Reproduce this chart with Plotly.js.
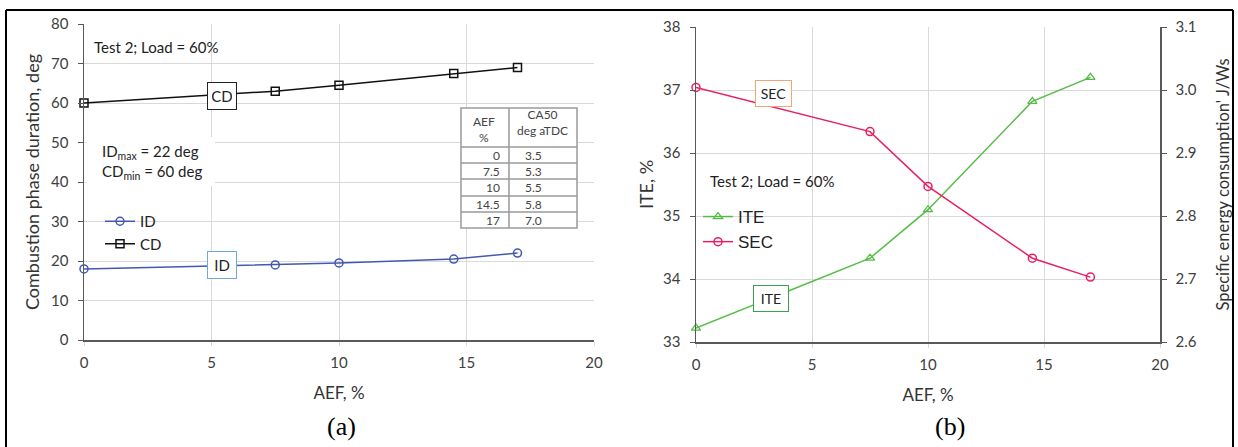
<!DOCTYPE html>
<html><head><meta charset="utf-8">
<script src="https://cdn.plot.ly/plotly-3.0.1.min.js"></script>
<style>html,body{margin:0;padding:0;background:#fff}#chart{width:1238px;height:447px}</style>
</head><body><div id="chart"></div>
<script>
// ---- data ----
const aef = [0, 7.5, 10, 14.5, 17];
const idValues = [18, 19, 19.5, 20.5, 22];
const cdValues = [60, 63, 64.5, 67.5, 69];
const iteValues = [33.22, 34.33, 35.1, 36.82, 37.2];
const secValues = [3.004, 2.934, 2.847, 2.733, 2.703];
const tableAEF = ['0', '7.5', '10', '14.5', '17'];
const tableCA50 = ['3.5', '5.3', '5.5', '5.8', '7.0'];

const W = 1238, H = 447;
const px = x => x / W;
const py = y => 1 - y / H;
const grid = '#d9d9d9', axc = '#595959', txt = '#404040';
const F = 'Lato, "Open Sans", sans-serif';

const traces = [
  {x: aef, y: idValues, name: 'ID', type: 'scatter', mode: 'lines+markers', xaxis: 'x', yaxis: 'y', legend: 'legend',
   line: {color: '#4458b2', width: 1.5}, marker: {symbol: 'circle-open', size: 8, color: '#4458b2', line: {width: 1.5}}, cliponaxis: false},
  {x: aef, y: cdValues, name: 'CD', type: 'scatter', mode: 'lines+markers', xaxis: 'x', yaxis: 'y', legend: 'legend',
   line: {color: '#111', width: 1.5}, marker: {symbol: 'square-open', size: 8, color: '#111', line: {width: 1.5}}, cliponaxis: false},
  {x: aef, y: iteValues, name: 'ITE', type: 'scatter', mode: 'lines+markers', xaxis: 'x2', yaxis: 'y2', legend: 'legend2',
   line: {color: '#55bb46', width: 1.5}, marker: {symbol: 'triangle-up-open', size: 8, color: '#55bb46', line: {width: 1.3}}, cliponaxis: false},
  {x: aef, y: secValues, name: 'SEC', type: 'scatter', mode: 'lines+markers', xaxis: 'x2', yaxis: 'y3', legend: 'legend2',
   line: {color: '#e8205f', width: 1.5}, marker: {symbol: 'circle-open', size: 8, color: '#e8205f', line: {width: 1.5}}, cliponaxis: false}
];

function xAx(domain, anchor) {
  return {domain: domain, anchor: anchor, range: [0, 20], dtick: 5, showgrid: true, gridcolor: grid, gridwidth: 1,
    zeroline: false, showline: true, linecolor: axc, linewidth: 1.5, ticks: 'outside', ticklen: 4, tickcolor: grid,
    tickfont: {family: F, size: 15, color: txt}, ticklabelstandoff: 4,
    title: {text: 'AEF, %', font: {family: F, size: 17, color: '#333'}, standoff: 17}};
}

const layout = {
  width: W, height: H, margin: {l: 0, r: 0, t: 0, b: 0}, paper_bgcolor: '#fff', plot_bgcolor: '#fff',
  showlegend: true,
  xaxis: xAx([px(84), px(594)], 'y'),
  yaxis: {domain: [py(340), py(24)], anchor: 'x', range: [0, 80], dtick: 10, showgrid: true, gridcolor: grid,
    zeroline: false, showline: true, linecolor: axc, linewidth: 1.5, ticks: 'outside', ticklen: 5, tickcolor: axc,
    tickfont: {family: F, size: 15, color: txt}, ticklabelstandoff: 6,
    title: {text: 'Combustion phase duration, deg', font: {family: F, size: 18, color: '#333'}, standoff: 7}},
  xaxis2: xAx([px(696), px(1160)], 'y2'),
  yaxis2: {domain: [py(342), py(27)], anchor: 'x2', range: [33, 38], dtick: 1, showgrid: true, gridcolor: grid,
    zeroline: false, showline: true, linecolor: axc, linewidth: 1.5, ticks: 'outside', ticklen: 5, tickcolor: axc,
    tickfont: {family: F, size: 15, color: txt}, ticklabelstandoff: 6,
    title: {text: 'ITE, %', font: {family: F, size: 18, color: '#333'}, standoff: 5}},
  yaxis3: {overlaying: 'y2', anchor: 'x2', side: 'right', range: [2.6, 3.1], dtick: 0.1, tickformat: '.1f', showgrid: false,
    zeroline: false, showline: true, linecolor: axc, linewidth: 1.5, ticks: 'outside', ticklen: 5, tickcolor: axc,
    tickfont: {family: F, size: 15, color: txt}, ticklabelstandoff: 6,
    title: {text: "Specific energy consumption' J/Ws", font: {family: F, size: 16.5, color: '#333'}, standoff: 21}},
  legend: {x: px(100), y: py(205), xanchor: 'left', yanchor: 'top', bgcolor: 'rgba(0,0,0,0)',
    font: {family: F, size: 15, color: '#222'}, itemwidth: 30, tracegroupgap: 0},
  legend2: {x: px(698), y: py(199), xanchor: 'left', yanchor: 'top', bgcolor: 'rgba(0,0,0,0)',
    font: {family: '"Liberation Sans", Arial, sans-serif', size: 17, color: '#222'}, itemwidth: 30, tracegroupgap: 0},
  shapes: [],
  annotations: []
};

// outer frame
layout.shapes.push({type: 'line', xref: 'paper', yref: 'paper', x0: px(6), x1: px(1233), y0: py(10), y1: py(10), line: {color: '#000', width: 2}});
layout.shapes.push({type: 'line', xref: 'paper', yref: 'paper', x0: px(6), x1: px(6), y0: py(10), y1: 0, line: {color: '#000', width: 2}});
layout.shapes.push({type: 'line', xref: 'paper', yref: 'paper', x0: px(1233), x1: px(1233), y0: py(10), y1: 0, line: {color: '#000', width: 2}});

// white box behind IDmax/CDmin text
layout.shapes.push({type: 'rect', xref: 'paper', yref: 'paper', x0: px(86), x1: px(215), y0: py(186), y1: py(137), fillcolor: '#fff', line: {width: 0}, layer: 'above'});

// table
const tL = 461, tM = 509, tR = 577, tTop = 108;
const rowEdges = [147, 163, 179, 196, 212, 228];
layout.shapes.push({type: 'rect', xref: 'paper', yref: 'paper', x0: px(tL), x1: px(tR), y0: py(228), y1: py(tTop), fillcolor: '#fff', line: {color: '#9a9a9a', width: 1.5}, layer: 'above'});
layout.shapes.push({type: 'line', xref: 'paper', yref: 'paper', x0: px(tM), x1: px(tM), y0: py(228), y1: py(tTop), line: {color: '#9a9a9a', width: 1.5}, layer: 'above'});
rowEdges.slice(0, 5).forEach(e => layout.shapes.push({type: 'line', xref: 'paper', yref: 'paper', x0: px(tL), x1: px(tR), y0: py(e), y1: py(e), line: {color: '#9a9a9a', width: 1.5}, layer: 'above'}));
const tf = {family: F, size: 12, color: '#444'};
layout.annotations.push({xref: 'paper', yref: 'paper', x: px(484), y: py(129), text: 'AEF<br>%', showarrow: false, font: tf, xanchor: 'center', yanchor: 'middle'});
layout.annotations.push({xref: 'paper', yref: 'paper', x: px(542), y: py(123), text: 'CA50<br>deg aTDC', showarrow: false, font: tf, xanchor: 'center', yanchor: 'middle'});
tableAEF.forEach((v, i) => {
  const yc = (rowEdges[i] + rowEdges[i + 1]) / 2;
  layout.annotations.push({xref: 'paper', yref: 'paper', x: px(502), y: py(yc), text: v, showarrow: false, font: tf, xanchor: 'right', yanchor: 'middle'});
  layout.annotations.push({xref: 'paper', yref: 'paper', x: px(533), y: py(yc), text: tableCA50[i], showarrow: false, font: tf, xanchor: 'center', yanchor: 'middle'});
});

// left chart texts
layout.annotations.push({xref: 'paper', yref: 'paper', x: px(92), y: py(47), text: 'Test 2; Load = 60%', showarrow: false, font: {family: F, size: 15, color: '#222'}, xanchor: 'left', yanchor: 'middle'});
layout.annotations.push({xref: 'paper', yref: 'paper', x: px(100), y: py(162), text: 'ID<sub>max</sub> = 22 deg<br>CD<sub>min</sub> = 60 deg', showarrow: false, align: 'left', font: {family: F, size: 15, color: '#222'}, xanchor: 'left', yanchor: 'middle'});
layout.annotations.push({xref: 'x', yref: 'y', x: 5.4, y: 61.9, text: 'CD', showarrow: false, font: {family: F, size: 15, color: '#222'}, bgcolor: '#fff', bordercolor: '#222', borderwidth: 1, borderpad: 4, width: 20});
layout.annotations.push({xref: 'x', yref: 'y', x: 5.4, y: 19.1, text: 'ID', showarrow: false, font: {family: F, size: 15, color: '#222'}, bgcolor: '#fff', bordercolor: '#6fa8dc', borderwidth: 1, borderpad: 4, width: 20});

// right chart texts
layout.annotations.push({xref: 'paper', yref: 'paper', x: px(708), y: py(181), text: 'Test 2; Load = 60%', showarrow: false, font: {family: F, size: 15, color: '#222'}, xanchor: 'left', yanchor: 'middle'});
layout.annotations.push({xref: 'x2', yref: 'y2', x: 3.36, y: 36.94, text: 'SEC', showarrow: false, font: {family: F, size: 14, color: '#222'}, bgcolor: '#fff', bordercolor: '#f4a574', borderwidth: 1, borderpad: 4, width: 27});
layout.annotations.push({xref: 'x2', yref: 'y2', x: 3.23, y: 33.69, text: 'ITE', showarrow: false, font: {family: F, size: 14, color: '#222'}, bgcolor: '#fff', bordercolor: '#3aa04a', borderwidth: 1, borderpad: 4, width: 26});

// captions
layout.annotations.push({xref: 'paper', yref: 'paper', x: px(341), y: py(426), text: '(a)', showarrow: false, font: {family: '"Liberation Serif", serif', size: 26, color: '#000'}, xanchor: 'center', yanchor: 'middle'});
layout.annotations.push({xref: 'paper', yref: 'paper', x: px(950), y: py(426), text: '(b)', showarrow: false, font: {family: '"Liberation Serif", serif', size: 26, color: '#000'}, xanchor: 'center', yanchor: 'middle'});

Plotly.newPlot('chart', traces, layout, {displayModeBar: false, staticPlot: true});
</script></body></html>
